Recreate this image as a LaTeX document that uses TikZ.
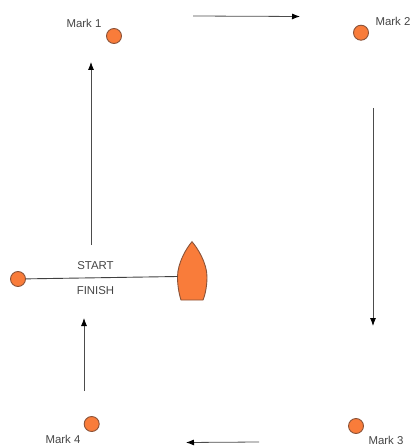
\documentclass[tikz,border=0pt]{standalone}
\usepackage{fontspec}
\setmainfont{Liberation Sans}
\usetikzlibrary{arrows.meta}
\definecolor{markfill}{HTML}{F97C3A}
\definecolor{markline}{HTML}{8A5238}
\definecolor{txt}{HTML}{444444}
\tikzset{
  x=1pt,y=-1pt,
  marker/.style={circle,draw=markline,fill=markfill,line width=0.9pt,minimum size=15pt,inner sep=0pt},
  lab/.style={font=\fontsize{11.4}{13}\selectfont,text=txt,inner sep=0pt},
  course/.style={draw=black!70,line width=0.8pt,-{Latex[length=8pt,width=6pt,black]}},
  startline/.style={draw=black!75,line width=0.9pt},
  boat/.style={draw=markline,fill=markfill,line width=0.9pt}
}
\begin{document}
\begin{tikzpicture}
\useasboundingbox (0,0) rectangle (411,446);
\node[marker] (m1) at (114,36) {};
\node[marker] (m2) at (361,32.7) {};
\node[marker] (m3) at (356,426) {};
\node[marker] (m4) at (91.7,424) {};
\node[marker] (s) at (18,279) {};
\node[lab] (l1) at (84,23.5) {Mark 1};
\node[lab] (l2) at (393,21.5) {Mark 2};
\node[lab] (l3) at (386,440.3) {Mark 3};
\node[lab] (l4) at (63,439) {Mark 4};
\node[lab] (st) at (95.5,265.5) {START};
\node[lab] (fi) at (95.5,290.5) {FINISH};
\path[boat] (192,241.7) .. controls (186.5,248) and (177.5,263) .. (177.5,277)
  .. controls (177.5,285) and (179,294) .. (181,300) -- (203,300)
  .. controls (205.5,294) and (207,285) .. (207,277)
  .. controls (207,263) and (197.5,248) .. (192,241.7) -- cycle;
\coordinate (port) at (177.5,276.5);
\draw[startline] (s) -- (port);
\coordinate (a1s) at (91,245); \coordinate (a1e) at (91,62);
\coordinate (a2s) at (193,16); \coordinate (a2e) at (300,16.5);
\coordinate (a3s) at (373,108); \coordinate (a3e) at (373,326);
\coordinate (a4s) at (259,442); \coordinate (a4e) at (186,442.5);
\coordinate (a5s) at (84,391); \coordinate (a5e) at (84,318);
\draw[course] (a1s) -- (a1e);
\draw[course] (a2s) -- (a2e);
\draw[course] (a3s) -- (a3e);
\draw[course] (a4s) -- (a4e);
\draw[course] (a5s) -- (a5e);
\end{tikzpicture}
\end{document}
